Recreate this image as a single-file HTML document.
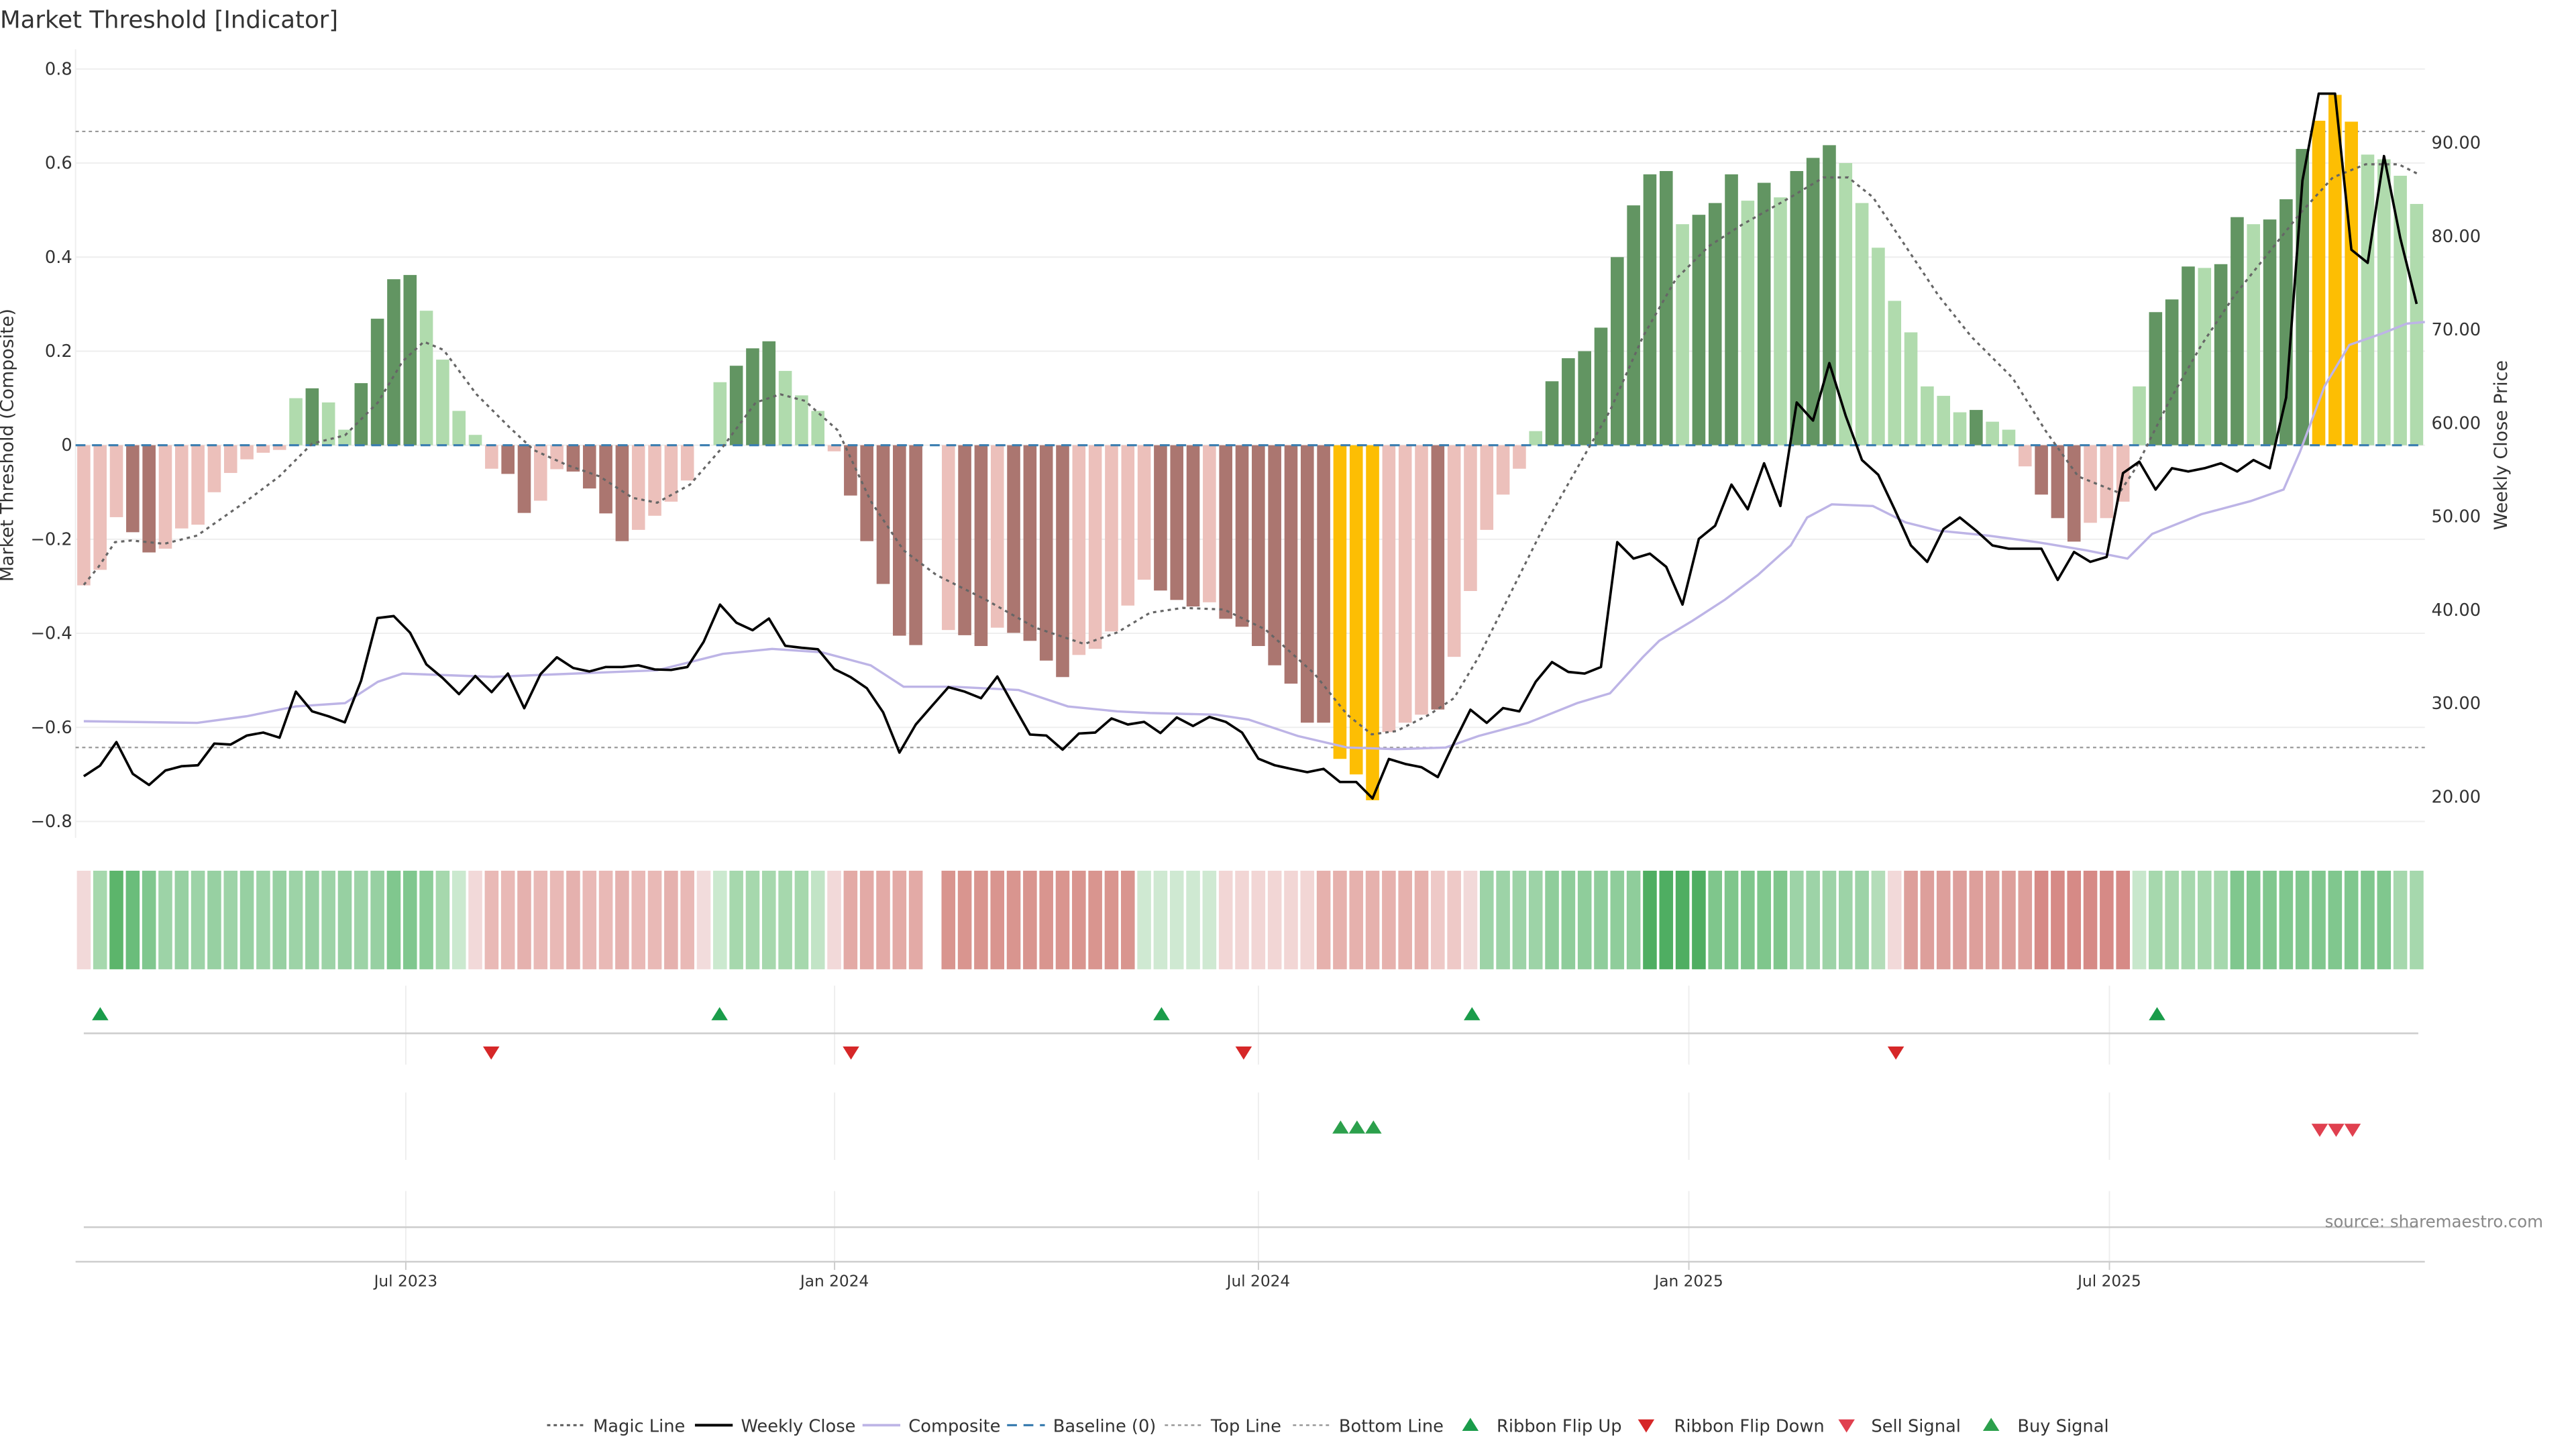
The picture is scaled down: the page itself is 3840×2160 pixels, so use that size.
<!DOCTYPE html>
<html><head><meta charset="utf-8">
<style>
html,body{margin:0;padding:0;background:#fff;}
svg{display:block;}
text{font-family:"DejaVu Sans","Liberation Sans",sans-serif;fill:#333;}
</style></head>
<body>
<svg id="s" width="3840" height="2160" viewBox="0 0 1568 882" preserveAspectRatio="none" xmlns="http://www.w3.org/2000/svg">
<rect width="1568" height="882" fill="#fff"/>
<text x="0" y="17" font-size="14.5">Market Threshold [Indicator]</text>
<g id="grid"></g>
<g id="bars"></g>
<g id="lines"></g>
<g id="ribbon"></g>
<g id="marks"></g>
<g id="axes"></g>
<text x="8" y="271" font-size="11" text-anchor="middle" transform="rotate(-90 8 271)">Market Threshold (Composite)</text>
<text x="1526" y="271" font-size="11" text-anchor="middle" transform="rotate(-90 1526 271)">Weekly Close Price</text>
<text x="1548" y="747" font-size="10" text-anchor="end" fill="#888" style="fill:#888">source: sharemaestro.com</text>
<g id="legend"></g>
</svg>
<script>
const NS="http://www.w3.org/2000/svg";
function el(p,t,a,txt){const e=document.createElementNS(NS,t);for(const k in a)e.setAttribute(k,a[k]);if(txt!==undefined)e.textContent=txt;document.getElementById(p).appendChild(e);return e;}
const X=i=>51+i*9.93;
const Y=v=>271-v*286.25;
const P=p=>87+(90-p)*5.686;
for(let v=-0.8;v<=0.81;v+=0.2){const y=Y(v);el('grid','line',{x1:46,x2:1476,y1:y,y2:y,stroke:'#eeeeee','stroke-width':0.8});
 el('axes','text',{x:44,y:y+3.5,'font-size':10.5,'text-anchor':'end'},(Math.abs(v)<1e-6?'0':(v<0?'\u22120':'0')+Math.abs(v).toFixed(1).slice(1)));}
el('grid','line',{x1:46,x2:46,y1:30,y2:510,stroke:'#eeeeee','stroke-width':0.8});
for(let p=20;p<=90;p+=10){el('axes','text',{x:1480,y:P(p)+3.5,'font-size':10.5},p.toFixed(2));}
el('grid','line',{x1:46,x2:1476,y1:80,y2:80,stroke:'#999','stroke-width':0.9,'stroke-dasharray':'2,2'});
el('grid','line',{x1:46,x2:1476,y1:455,y2:455,stroke:'#999','stroke-width':0.9,'stroke-dasharray':'2,2'});
const B=[[-.298,'r'],[-.265,'r'],[-.153,'r'],[-.185,'R'],[-.228,'R'],[-.22,'r'],[-.177,'r'],[-.169,'r'],[-.10,'r'],[-.059,'r'],[-.03,'r'],[-.016,'r'],[-.01,'r'],
[.10,'g'],[.121,'G'],[.091,'g'],[.033,'g'],[.132,'G'],[.269,'G'],[.353,'G'],[.362,'G'],[.286,'g'],[.182,'g'],[.073,'g'],[.022,'g'],
[-.05,'r'],[-.061,'R'],[-.144,'R'],[-.118,'r'],[-.051,'r'],[-.056,'R'],[-.092,'R'],[-.145,'R'],[-.204,'R'],[-.18,'r'],[-.15,'r'],[-.12,'r'],[-.075,'r'],[0,'r'],
[.134,'g'],[.169,'G'],[.206,'G'],[.221,'G'],[.158,'g'],[.106,'g'],[.073,'g'],
[-.013,'r'],[-.107,'R'],[-.204,'R'],[-.295,'R'],[-.405,'R'],[-.425,'R'],null,[-.393,'r'],[-.404,'R'],[-.427,'R'],[-.388,'r'],[-.399,'R'],[-.416,'R'],[-.458,'R'],[-.493,'R'],
[-.446,'r'],[-.433,'r'],[-.396,'r'],[-.341,'r'],[-.286,'r'],[-.309,'R'],[-.329,'R'],[-.343,'R'],[-.334,'r'],[-.369,'R'],[-.386,'R'],[-.427,'R'],[-.468,'R'],[-.507,'R'],[-.59,'R'],[-.59,'R'],
[-.667,'Y'],[-.70,'Y'],[-.755,'Y'],[-.61,'r'],[-.59,'r'],[-.573,'r'],[-.562,'R'],[-.45,'r'],[-.31,'r'],[-.18,'r'],[-.105,'r'],[-.05,'r'],
[.03,'g'],[.136,'G'],[.185,'G'],[.20,'G'],[.25,'G'],[.40,'G'],[.51,'G'],[.576,'G'],[.583,'G'],[.47,'g'],[.49,'G'],[.515,'G'],[.576,'G'],[.52,'g'],[.558,'G'],[.527,'g'],[.583,'G'],[.611,'G'],[.638,'G'],
[.60,'g'],[.515,'g'],[.42,'g'],[.307,'g'],[.24,'g'],[.125,'g'],[.105,'g'],[.07,'g'],[.075,'G'],[.05,'g'],[.033,'g'],
[-.045,'r'],[-.105,'R'],[-.155,'R'],[-.205,'R'],[-.165,'r'],[-.155,'r'],[-.12,'r'],
[.125,'g'],[.283,'G'],[.31,'G'],[.38,'G'],[.377,'g'],[.385,'G'],[.485,'G'],[.47,'g'],[.48,'G'],[.523,'G'],[.63,'G'],[.69,'Y'],[.745,'Y'],[.688,'Y'],[.618,'g'],[.608,'g'],[.573,'g'],[.513,'g']];
const C={G:'#629562',g:'#b0dbad',R:'#ab7670',r:'#ecc0bb',Y:'#fdbe03'};
B.forEach((b,i)=>{if(!b)return;const y0=Y(0),y1=Y(b[0]);el('bars','rect',{x:X(i)-4,y:Math.min(y0,y1),width:8,height:Math.max(Math.abs(y1-y0),0.01),fill:C[b[1]]});});
el('bars','line',{x1:46,x2:1476,y1:271,y2:271,stroke:'#3a7db0','stroke-width':1.3,'stroke-dasharray':'6,4'});
const comp=[[51,439],[120,440],[150,436],[180,430],[210,428],[230,415],[245,410],[300,412],[400,408],[440,398],[470,395],[500,397],[530,405],[550,418],[580,418],[620,420],[650,430],[680,433],[700,434],[740,435],[760,438],[790,448],[820,455],[850,456],[880,455],[900,448],[930,440],[960,428],[980,422],[1000,400],[1010,390],[1030,378],[1050,365],[1070,350],[1090,332],[1100,315],[1115,307],[1140,308],[1160,318],[1180,323],[1210,326],[1240,330],[1270,335],[1295,340],[1310,325],[1340,313],[1370,305],[1390,298],[1400,275],[1415,235],[1430,210],[1450,203],[1465,197],[1476,196]];
el('lines','polyline',{points:comp.map(p=>p.join(',')).join(' '),fill:'none',stroke:'#bdb4e6','stroke-width':1.4});
const mag=[[51,356],[60,345],[70,330],[80,329],[100,331],[120,326],[150,305],[170,290],[190,270],[210,265],[230,245],[245,220],[258,208],[270,213],[290,240],[310,260],[325,274],[345,283],[365,290],[385,303],[400,306],[420,295],[440,272],[460,245],[475,240],[490,244],[510,262],[530,305],[550,335],[570,350],[600,365],[630,382],[660,392],[680,385],[700,373],[720,370],[745,371],[770,383],[800,410],[820,435],[835,447],[850,445],[870,435],[885,425],[900,400],[920,360],[940,320],[960,285],[980,250],[1000,205],[1020,170],[1040,150],[1060,137],[1090,120],[1110,108],[1125,108],[1140,120],[1160,150],[1180,180],[1200,205],[1225,230],[1245,262],[1265,290],[1290,300],[1300,285],[1320,245],[1340,210],[1360,180],[1380,155],[1400,130],[1420,108],[1440,100],[1460,100],[1472,106]];
el('lines','polyline',{points:mag.map(p=>p.join(',')).join(' '),fill:'none',stroke:'#666','stroke-width':1.3,'stroke-dasharray':'2,2.5'});
const cl=[472.5,466,451.7,471,477.8,469,466.4,465.8,452.6,453.2,447.7,445.9,449,421,433,436,439.7,414.3,376.2,375,385.1,404.4,412.7,422.5,411.5,421.3,410,431.1,410.3,400.1,406.6,408.7,406,406,405,407.5,407.8,
406,390.6,368,379,383.6,376.5,393.1,394.3,395.2,407.2,412.1,418.9,433.6,458.1,441,429.6,418.3,421,425,411.8,429.6,447.1,447.7,456.3,446.5,445.9,437.3,441,439.4,446.2,436.7,441.9,436.4,439.4,445.9,461.8,465.8,
468,470,468,476,476,486,462,465,467,473,452,432,440,431,433,415,403,409,410,406,330,340,337,345,368,328,320,295,310,282,308,245,256,221,253,280,289,310,332,342,322,315,323,332,334,334,334,353,336,342,339,288,281,298,285,287,285,282,287,280,285,242,110,57,57,152,160,95,145,185];
el('lines','polyline',{points:cl.map((y,i)=>X(i)+','+y).join(' '),fill:'none',stroke:'#000','stroke-width':1.5,'stroke-linejoin':'round'});
function rc(i){
 if(i==0)return'#f2d9d9';if(i==1)return'#a6d8ad';if(i==2)return'#5cb56b';if(i==3)return'#6abd7b';if(i==4)return'#80c78e';
 if(i<=18)return i%2?'#9dd3a7':'#97d0a2';if(i<=20)return'#80c78e';if(i==21)return'#8ccd98';if(i==22)return'#a6d8ad';if(i==23)return'#cbe9cf';
 if(i==24)return'#f2d9d9';if(i<=37)return i%3?'#e9b9b6':'#e5b1ae';if(i==38)return'#f2dcdc';
 if(i==39)return'#cbe9cf';if(i<=44)return'#a6d8ad';if(i==45)return'#c2e4c6';
 if(i==46)return'#f2d9d9';if(i<=51)return'#e3aaa6';if(i==52)return null;if(i<=64)return'#d9958f';
 if(i<=69)return'#cfe9d2';if(i<=75)return'#f2d6d5';if(i<=82)return'#e6b1ad';if(i<=84)return'#eec9c7';if(i==85)return'#f2d9d9';
 if(i<=89)return'#9dd3a7';if(i<=95)return'#8fcd9b';if(i<=99)return'#4fae62';if(i<=104)return'#7fc68c';if(i<=109)return'#9dd3a7';if(i==110)return'#b4ddb9';
 if(i==111)return'#f2d9d9';if(i<=119)return'#dd9f9b';if(i<=125)return'#d68a86';
 if(i==126)return'#c8e7cc';if(i<=131)return'#a6d8ad';if(i<=141)return'#80c78e';return'#a6d8ad';}
for(let i=0;i<144;i++){const c=rc(i);if(c)el('ribbon','rect',{x:X(i)-4.2,y:530,width:8.4,height:60,fill:c});}
[247,508,766,1028,1284].forEach(x=>{
 el('marks','line',{x1:x,x2:x,y1:600,y2:648,stroke:'#eee','stroke-width':0.8});
 el('marks','line',{x1:x,x2:x,y1:665,y2:706,stroke:'#eee','stroke-width':0.8});
 el('marks','line',{x1:x,x2:x,y1:725,y2:768,stroke:'#eee','stroke-width':0.8});
 el('axes','line',{x1:x,x2:x,y1:768,y2:773,stroke:'#ccc','stroke-width':0.8});
});
el('marks','line',{x1:51,x2:1472,y1:629,y2:629,stroke:'#ccc','stroke-width':1});
el('marks','line',{x1:51,x2:1472,y1:747,y2:747,stroke:'#ccc','stroke-width':1});
el('axes','line',{x1:46,x2:1476,y1:768,y2:768,stroke:'#ccc','stroke-width':1});
function up(p,x,y,c){el(p,'polygon',{points:`${x-5},${y+4} ${x+5},${y+4} ${x},${y-4}`,fill:c});}
function dn(p,x,y,c){el(p,'polygon',{points:`${x-5},${y-4} ${x+5},${y-4} ${x},${y+4}`,fill:c});}
[61,438,707,896,1313].forEach(x=>up('marks',x,617,'#1a9c4a'));
[299,518,757,1154].forEach(x=>dn('marks',x,641,'#d62728'));
[816,826,836].forEach(x=>up('marks',x,686,'#2ca04c'));
[1412,1422,1432].forEach(x=>dn('marks',x,688,'#e0404f'));
[['Jul 2023',247],['Jan 2024',508],['Jul 2024',766],['Jan 2025',1028],['Jul 2025',1284]].forEach(t=>el('axes','text',{x:t[1],y:783,'font-size':9.5,'text-anchor':'middle'},t[0]));
const LY=871;
function lline(x,dash,col,w){const a={x1:x,x2:x+23,y1:LY-3.5,y2:LY-3.5,stroke:col,'stroke-width':w};if(dash)a['stroke-dasharray']=dash;el('legend','line',a);}
function lt(x,s){el('legend','text',{x:x,y:LY+0.5,'font-size':10.5},s);}
lline(333,'2,2','#666',1.3);lt(361,'Magic Line');
lline(423,null,'#000',1.6);lt(451,'Weekly Close');
lline(525,null,'#bdb4e6',1.5);lt(553,'Composite');
lline(613,'6,4','#3a7db0',1.3);lt(641,'Baseline (0)');
lline(709,'2,2','#999',1);lt(737,'Top Line');
lline(787,'2,2','#999',1);lt(815,'Bottom Line');
up('legend',895,LY-4,'#1a9c4a');lt(911,'Ribbon Flip Up');
dn('legend',1002,LY-3,'#d62728');lt(1019,'Ribbon Flip Down');
dn('legend',1124,LY-3,'#e0404f');lt(1139,'Sell Signal');
up('legend',1212,LY-4,'#2ca04c');lt(1228,'Buy Signal');
</script>
</body></html>
